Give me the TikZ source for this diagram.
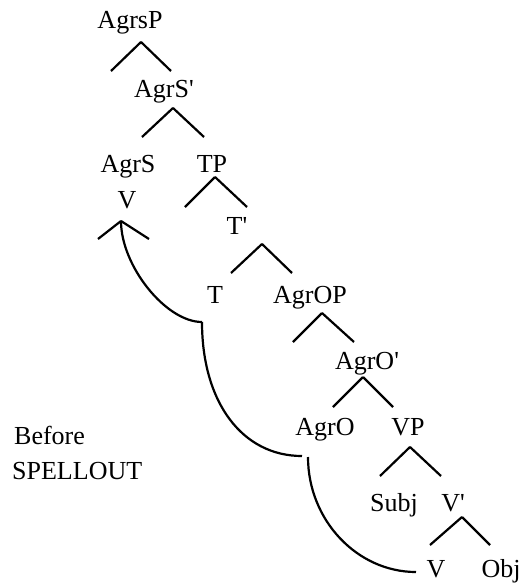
\documentclass[tikz,border=0pt]{standalone}
\usepackage{fontspec}
\setmainfont{Liberation Serif}

\begin{document}
\begin{tikzpicture}[x=1pt, y=-1pt]


\tikzstyle{label_style} = [inner sep=0pt, anchor=base, font=\fontsize{26}{30}\selectfont]

\tikzstyle{edge_style} = [draw=black, line width=2.2]

\tikzstyle{move_style} = [draw=black, line width=2.2]


\useasboundingbox (0,0) rectangle (529,587);

\node[label_style] (agrsp) at (130, 28) {AgrsP};
\node[label_style] (agrsbar) at (164, 97) {AgrS\textquotesingle};
\node[label_style] (agrs) at (128, 172) {AgrS};
\node[label_style] (tp) at (212, 172) {TP};
\node[label_style] (vtop) at (127, 208) {V};
\node[label_style] (tbar) at (237, 234) {T\textquotesingle};
\node[label_style] (t) at (215, 303) {T};
\node[label_style] (agrop) at (310, 303) {AgrOP};
\node[label_style] (agrobar) at (367, 369) {AgrO\textquotesingle};
\node[label_style] (agro) at (325, 435) {AgrO};
\node[label_style] (vp) at (408, 435) {VP};
\node[label_style] (subj) at (394, 511) {Subj};
\node[label_style] (vbar) at (453, 511) {V\textquotesingle};
\node[label_style] (v) at (436, 577) {V};
\node[label_style] (obj) at (501, 577) {Obj};

\node[label_style, anchor=base west] (before) at (14, 444) {Before};
\node[label_style, anchor=base west] (spellout) at (12, 479) {SPELLOUT};

\coordinate (a1) at (141, 42);
\coordinate (l1) at (111, 71);
\coordinate (r1) at (171, 71);
\coordinate (a2) at (173, 108);
\coordinate (l2) at (142, 137);
\coordinate (r2) at (204, 137);
\coordinate (a3) at (215, 177);
\coordinate (l3) at (185, 207);
\coordinate (r3) at (247, 207);
\coordinate (a4) at (262, 244);
\coordinate (l4) at (231, 273);
\coordinate (r4) at (292, 273);
\coordinate (a5) at (322, 313);
\coordinate (l5) at (293, 342);
\coordinate (r5) at (354, 342);
\coordinate (a6) at (363, 377);
\coordinate (l6) at (333, 407);
\coordinate (r6) at (393, 407);
\coordinate (a7) at (410, 447);
\coordinate (l7) at (380, 476);
\coordinate (r7) at (441, 476);
\coordinate (a8) at (462, 517);
\coordinate (l8) at (430, 545);
\coordinate (r8) at (490, 545);

\coordinate (k0) at (121, 221);
\coordinate (k1) at (98, 239);
\coordinate (k2) at (149, 239);

\coordinate (m1) at (202, 322);
\coordinate (m2) at (302, 456);
\coordinate (m3) at (308, 457);
\coordinate (m4) at (416, 572);


\draw[edge_style]  (a1) edge (l1);
\draw[edge_style]  (a1) edge (r1);
\draw[edge_style]  (a2) edge (l2);
\draw[edge_style]  (a2) edge (r2);
\draw[edge_style]  (a3) edge (l3);
\draw[edge_style]  (a3) edge (r3);
\draw[edge_style]  (a4) edge (l4);
\draw[edge_style]  (a4) edge (r4);
\draw[edge_style]  (a5) edge (l5);
\draw[edge_style]  (a5) edge (r5);
\draw[edge_style]  (a6) edge (l6);
\draw[edge_style]  (a6) edge (r6);
\draw[edge_style]  (a7) edge (l7);
\draw[edge_style]  (a7) edge (r7);
\draw[edge_style]  (a8) edge (l8);
\draw[edge_style]  (a8) edge (r8);

\draw[edge_style]  (k0) edge (k1);
\draw[edge_style]  (k0) edge (k2);

\draw[move_style]  (k0) .. controls (121, 266) and (166, 322) .. (m1);
\draw[move_style]  (m1) .. controls (202, 402) and (242, 456) .. (m2);
\draw[move_style]  (m3) .. controls (308, 520) and (357, 572) .. (m4);




\end{tikzpicture}
\end{document}
